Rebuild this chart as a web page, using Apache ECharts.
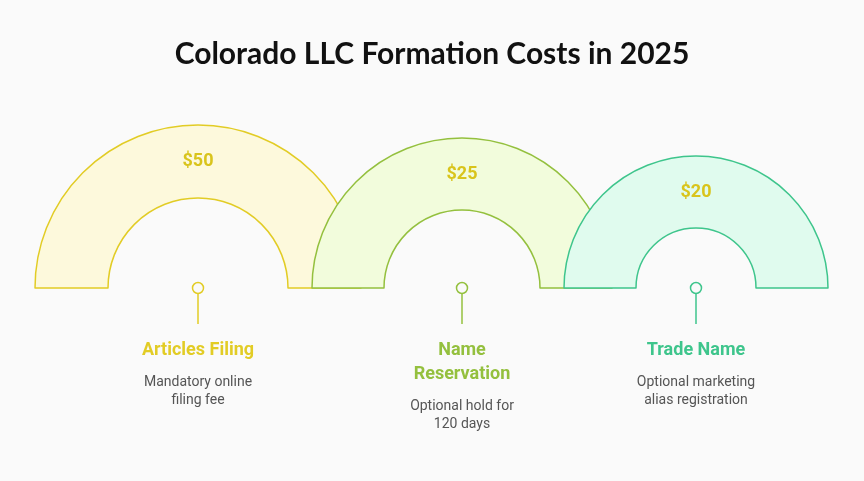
<!DOCTYPE html>
<html>
<head>
<meta charset="utf-8">
<script src="https://cdn.jsdelivr.net/npm/echarts@6/dist/echarts.min.js"></script>
<style>
  html, body { margin: 0; padding: 0; background: #fafafa; }
  #content_data { width: 864px; height: 481px; }
</style>
</head>
<body>
<div id="content_data"></div>
<script>
const names = ['Articles Filing', 'Name\nReservation', 'Trade Name'];
const costs = [50, 25, 20];
const notes = ['Mandatory online\nfiling fee', 'Optional hold for\n120 days', 'Optional marketing\nalias registration'];
const strokes = ['#e2cc25', '#94c03e', '#3ec58c'];
const fills = ['#fdf9dc', '#f2fcdc', '#e0fbee'];

// layout of each half ring: center x, outer radius, inner radius
const layout = [[198, 163, 90], [462, 150, 78], [696, 132, 60]];
const baseY = 288;

let Chart = echarts.init(document.getElementById('content_data'));

const series = costs.map((v, i) => ({
  type: 'pie',
  silent: true,
  center: [layout[i][0], baseY],
  radius: [layout[i][2], layout[i][1]],
  startAngle: 180,
  endAngle: 0,
  label: { show: false },
  labelLine: { show: false },
  z: i + 1,
  data: [{
    value: v, name: names[i],
    itemStyle: { color: fills[i], borderColor: strokes[i], borderWidth: 1.5 }
  }]
}));

const graphics = [];
costs.forEach((v, i) => {
  const cx = layout[i][0];
  const midR = (layout[i][1] + layout[i][2]) / 2;
  graphics.push({
    type: 'text', z: 100,
    style: { text: '$' + v, x: cx, y: baseY - midR, textAlign: 'center', textVerticalAlign: 'middle', font: 'bold 18px Roboto', fill: '#d9c41c' }
  });
  graphics.push({
    type: 'line', z: 100,
    shape: { x1: cx, y1: baseY + 6, x2: cx, y2: baseY + 36 },
    style: { stroke: strokes[i], lineWidth: 1.5 }
  });
  graphics.push({
    type: 'circle', z: 101,
    shape: { cx: cx, cy: baseY, r: 5.5 },
    style: { fill: '#fafafa', stroke: strokes[i], lineWidth: 1.5 }
  });
  const twoLine = names[i].indexOf('\n') >= 0;
  graphics.push({
    type: 'text', z: 100,
    style: { text: names[i], x: cx, y: 338, textAlign: 'center', font: 'bold 18px Roboto', fill: strokes[i], lineHeight: 24 }
  });
  graphics.push({
    type: 'text', z: 100,
    style: { text: notes[i], x: cx, y: twoLine ? 397 : 373, textAlign: 'center', font: '14px Roboto', fill: '#555', lineHeight: 18 }
  });
});

Chart.setOption({
  backgroundColor: '#fafafa',
  animation: false,
  title: {
    text: 'Colorado LLC Formation Costs in 2025',
    left: 'center', top: 34,
    textStyle: { fontFamily: 'Lato', fontSize: 30, fontWeight: 'bold', color: '#111' }
  },
  series: series,
  graphic: graphics
});
</script>
</body>
</html>
